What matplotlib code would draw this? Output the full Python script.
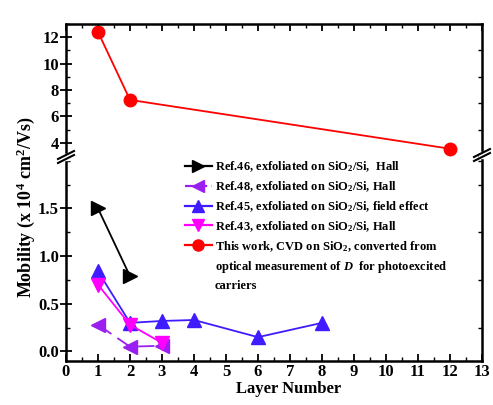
import matplotlib
matplotlib.use('Agg')
import numpy as np
import matplotlib.pyplot as plt
from matplotlib.lines import Line2D
from matplotlib.ticker import MultipleLocator

plt.rcParams['font.family'] = 'Liberation Serif'
plt.rcParams['font.weight'] = 'bold'
plt.rcParams['mathtext.fontset'] = 'custom'
plt.rcParams['mathtext.rm'] = 'Liberation Serif:bold'
plt.rcParams['mathtext.it'] = 'Liberation Serif:italic:bold'
plt.rcParams['mathtext.bf'] = 'Liberation Serif:bold'

# Data
ref46_x = [1, 2]
ref46_y = [1.50, 0.79]
ref48_x = [1, 2, 3]
ref48_y = [0.28, 0.05, 0.06]
ref45_x = [1, 2, 3, 4, 6, 8]
ref45_y = [0.84, 0.30, 0.32, 0.33, 0.15, 0.30]
ref43_x = [1, 2, 3]
ref43_y = [0.70, 0.28, 0.09]
this_x = [1, 2, 12]
this_y = [12.4, 7.25, 3.55]

labels = [
    'Ref.46, exfoliated on SiO$_2$/Si,  Hall',
    'Ref.48, exfoliated on SiO$_2$/Si, Hall',
    'Ref.45, exfoliated on SiO$_2$/Si, field effect',
    'Ref.43, exfoliated on SiO$_2$/Si, Hall',
    'This work, CVD on SiO$_2$, converted from',
]
extra_lines = ['optical measurement of $\\mathit{D}$  for photoexcited', 'carriers']

c46 = 'black'
c48 = '#9a1ff0'
c45 = '#3f1cff'
c43 = '#ff00ff'
cthis = '#ff0000'

fig = plt.figure(figsize=(4.93, 4.05), dpi=100)
W, H = 493.0, 405.0
x0, x1 = 66 / W, 482 / W
ax_top = fig.add_axes([x0, 1 - 156 / H, x1 - x0, (156 - 24) / H])
ax_bot = fig.add_axes([x0, 1 - 361 / H, x1 - x0, (361 - 156) / H])

for ax in (ax_top, ax_bot):
    ax.set_xlim(0, 13)
    ax.xaxis.set_major_locator(MultipleLocator(1))
    ax.xaxis.set_minor_locator(MultipleLocator(0.5))
    for s in ax.spines.values():
        s.set_linewidth(1.8)
    ax.tick_params(which='major', direction='in', length=5, width=1.3,
                   top=True, right=True, labelsize=12, pad=2)
    ax.tick_params(which='minor', direction='in', length=3, width=1.0,
                   top=True, right=True)
    ax.tick_params(axis='y', which='major', direction='inout', length=8, right=False, pad=1)

ax_top.set_ylim(3.0, 13.0)
ax_top.yaxis.set_minor_locator(MultipleLocator(1))
ax_top.set_yticks([4, 6, 8, 10, 12])
ax_top.spines['bottom'].set_visible(False)
ax_top.tick_params(axis='x', which='both', bottom=False, labelbottom=False)
ax_top.patch.set_alpha(0)

ax_bot.set_ylim(-0.1, 2.05)
ax_bot.yaxis.set_minor_locator(MultipleLocator(0.25))
ax_bot.set_yticks([0.0, 0.5, 1.0, 1.5])
ax_bot.spines['top'].set_visible(False)
ax_bot.tick_params(axis='x', which='both', top=False)
ax_bot.patch.set_alpha(0)

ax_top.plot(this_x, this_y, color=cthis, marker='o', ms=9, lw=1.3, clip_on=False)

ax_bot.plot(ref46_x, ref46_y, color=c46, marker='>', ms=10, lw=1.3, clip_on=False)
ax_bot.plot(ref48_x, ref48_y, color=c48, marker='<', ms=10, lw=1.3, dashes=(9, 4), clip_on=False)
ax_bot.plot(ref45_x, ref45_y, color=c45, marker='^', ms=10, lw=1.3, clip_on=False)
ax_bot.plot(ref43_x, ref43_y, color=c43, marker='v', ms=10, lw=1.3, clip_on=False)

for lbl in ax_top.get_yticklabels() + ax_bot.get_yticklabels() + ax_bot.get_xticklabels():
    lbl.set_fontweight('bold')

# legend
handles = [
    Line2D([], [], color=c46, marker='>', ms=9, lw=1.6),
    Line2D([], [], color=c48, marker='<', ms=9, lw=1.6, dashes=(4, 2)),
    Line2D([], [], color=c45, marker='^', ms=9, lw=1.6),
    Line2D([], [], color=c43, marker='v', ms=9, lw=1.6),
    Line2D([], [], color=cthis, marker='o', ms=8, lw=1.6),
    Line2D([], [], lw=0, alpha=0),
    Line2D([], [], lw=0, alpha=0),
]
leg = ax_bot.legend(handles, labels + extra_lines, loc='upper left',
                    bbox_to_anchor=(0.27, 1.015), frameon=False,
                    prop={'family': 'Liberation Serif', 'weight': 'bold', 'size': 9},
                    handlelength=2.2, handletextpad=0.2, labelspacing=0.42,
                    borderaxespad=0.1)

# axis break marks
def brk(xf, yf):
    dx, dy = 8 / W, 4 / H
    gap = 4 / H
    fig.patches.append(plt.Rectangle((xf - 3 / W, yf - gap / 2 - 1 / H), 6 / W, gap + 2 / H,
                                     transform=fig.transFigure, color='white', zorder=5))
    for off in (-gap / 2, gap / 2):
        fig.lines.append(Line2D([xf - dx, xf + dx], [yf + off - dy, yf + off + dy],
                                transform=fig.transFigure, color='black', lw=1.5, zorder=6))

brk(x0, 1 - 157 / H)
brk(x1, 1 - 155 / H)

fig.text(26 / W, 1 - 207 / H, 'Mobility (x 10$^4$ cm$^2$/Vs)', rotation=90,
         ha='center', va='center', fontsize=13, fontweight='bold')
fig.text(289 / W, 1 - 389 / H, 'Layer Number', ha='center', va='center',
         fontsize=12, fontweight='bold')

fig.savefig('out.png', dpi=100)
